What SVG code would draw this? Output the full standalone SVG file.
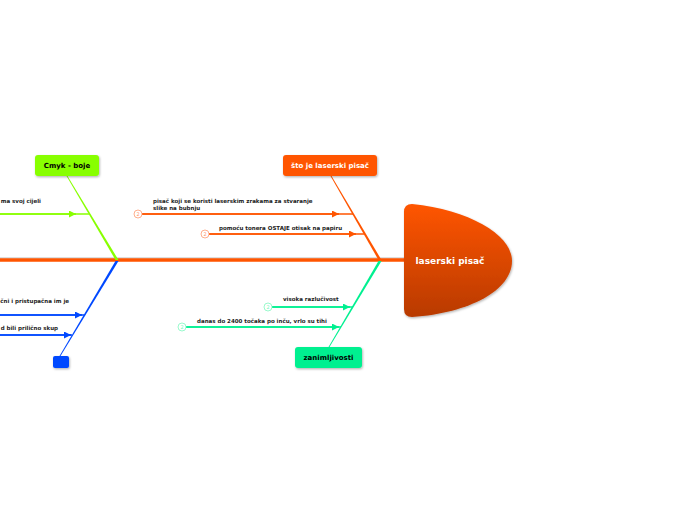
<svg xmlns="http://www.w3.org/2000/svg" width="696" height="520" viewBox="0 0 696 520">
<style>
.lbl{font-family:"DejaVu Sans",Verdana,sans-serif;font-weight:bold;font-size:5.5px;fill:#222}
.node text{font-family:"DejaVu Sans",Verdana,sans-serif;font-weight:bold;font-size:7px;text-anchor:middle}
.num{font-family:"DejaVu Sans",Verdana,sans-serif;font-size:5px;text-anchor:middle}
</style>
<defs>
<linearGradient id="headG" x1="0" y1="0" x2="0" y2="1">
<stop offset="0" stop-color="#FF5500"/>
<stop offset="1" stop-color="#B83A00"/>
</linearGradient>
<filter id="sh" x="-20%" y="-20%" width="140%" height="150%">
<feDropShadow dx="0.8" dy="1.2" stdDeviation="1" flood-color="#000" flood-opacity="0.3"/>
</filter>
<marker id="aO" viewBox="0 0 10 10" refX="10" refY="5" markerWidth="7" markerHeight="7" markerUnits="userSpaceOnUse" orient="auto"><path d="M0,0L10,5L0,10z" fill="#FF5500"/></marker>
<marker id="aG" viewBox="0 0 10 10" refX="10" refY="5" markerWidth="7" markerHeight="7" markerUnits="userSpaceOnUse" orient="auto"><path d="M0,0L10,5L0,10z" fill="#88FF00"/></marker>
<marker id="aB" viewBox="0 0 10 10" refX="10" refY="5" markerWidth="7" markerHeight="7" markerUnits="userSpaceOnUse" orient="auto"><path d="M0,0L10,5L0,10z" fill="#0048FF"/></marker>
<marker id="aT" viewBox="0 0 10 10" refX="10" refY="5" markerWidth="7" markerHeight="7" markerUnits="userSpaceOnUse" orient="auto"><path d="M0,0L10,5L0,10z" fill="#00F090"/></marker>
</defs>
<rect width="696" height="520" fill="#fff"/>
<g id="connectors">
<line x1="0" y1="258" x2="405" y2="258" stroke="#bbb" stroke-width="1"/>
<line x1="0" y1="260" x2="406" y2="260" stroke="#FF5500" stroke-width="3.5"/>
<polygon points="330.5,176 331.5,176 381.5,260 378.5,260" fill="#FF5500"/>
<polygon points="66.5,176 67.5,176 118.5,260 115.5,260" fill="#88FF00"/>
<polygon points="115.5,261 118.5,261 60.5,356 59.5,356" fill="#0048FF"/>
<polygon points="378.5,261 381.5,261 329.5,347 328.5,347" fill="#00F090"/>
<line x1="142" y1="214" x2="353" y2="214" stroke="#FF5500" stroke-width="1.3"/>
<line x1="142" y1="214" x2="339" y2="214" stroke="#FF5500" stroke-width="1.3" marker-end="url(#aO)"/>
<line x1="209" y1="234" x2="364" y2="234" stroke="#FF5500" stroke-width="1.3"/>
<line x1="209" y1="234" x2="356" y2="234" stroke="#FF5500" stroke-width="1.3" marker-end="url(#aO)"/>
<line x1="0" y1="214" x2="90" y2="214" stroke="#88FF00" stroke-width="1.3"/>
<line x1="0" y1="214" x2="76" y2="214" stroke="#88FF00" stroke-width="1.3" marker-end="url(#aG)"/>
<line x1="0" y1="315" x2="84" y2="315" stroke="#0048FF" stroke-width="1.3"/>
<line x1="0" y1="315" x2="82" y2="315" stroke="#0048FF" stroke-width="1.3" marker-end="url(#aB)"/>
<line x1="0" y1="335" x2="72" y2="335" stroke="#0048FF" stroke-width="1.3"/>
<line x1="0" y1="335" x2="71" y2="335" stroke="#0048FF" stroke-width="1.3" marker-end="url(#aB)"/>
<line x1="272" y1="307" x2="353" y2="307" stroke="#00F090" stroke-width="1.3"/>
<line x1="272" y1="307" x2="350" y2="307" stroke="#00F090" stroke-width="1.3" marker-end="url(#aT)"/>
<line x1="186" y1="327" x2="341" y2="327" stroke="#00F090" stroke-width="1.3"/>
<line x1="186" y1="327" x2="339" y2="327" stroke="#00F090" stroke-width="1.3" marker-end="url(#aT)"/>
</g>
<g id="head" class="node">
<path d="M412,204 C470,210 512,235 512,261 C512,290 470,313 412,317 Q404,317 404,309 L404,212 Q404,204 412,204 Z" fill="url(#headG)" filter="url(#sh)"/>
<text x="450" y="264" fill="#fff" style="font-size:9px">laserski pisač</text>
</g>
<g id="n-sto" class="node">
<rect x="283" y="155" width="94" height="21" rx="3" fill="#FF5500" filter="url(#sh)"/>
<text x="330" y="168" fill="#fff">što je laserski pisač</text>
</g>
<g id="n-cmyk" class="node">
<rect x="35" y="155" width="64" height="21" rx="3" fill="#88FF00" filter="url(#sh)"/>
<text x="67" y="168" fill="#000">Cmyk - boje</text>
</g>
<g id="n-blue" class="node">
<rect x="53" y="356" width="16" height="12" rx="2" fill="#0048FF" filter="url(#sh)"/>
</g>
<g id="n-zanim" class="node">
<rect x="295" y="347" width="67" height="21" rx="3" fill="#00F090" filter="url(#sh)"/>
<text x="328.5" y="360" fill="#000">zanimljivosti</text>
</g>
<g id="t1">
<text class="lbl" x="153" y="203">pisač koji se koristi laserskim zrakama za stvaranje</text>
<text class="lbl" x="153" y="210">slike na bubnju</text>
<circle cx="138" cy="214" r="4" fill="#fff" stroke="#FF9A70" stroke-width="0.8"/>
<text class="num" x="138" y="216" fill="#FF9A70">2</text>
</g>
<g id="t2">
<text class="lbl" x="219" y="230">pomoću tonera OSTAJE otisak na papiru</text>
<circle cx="205" cy="234" r="4" fill="#fff" stroke="#FF9A70" stroke-width="0.8"/>
<text class="num" x="205" y="236" fill="#FF9A70">2</text>
</g>
<g id="t3">
<text class="lbl" x="41" y="203" text-anchor="end">ma svoj cijeli</text>
</g>
<g id="t4">
<text class="lbl" x="69" y="303" text-anchor="end">čni i pristupačna im je</text>
</g>
<g id="t5">
<text class="lbl" x="58" y="330" text-anchor="end">d bili prilično skup</text>
</g>
<g id="t6">
<text class="lbl" x="283" y="301">visoka razlučivost</text>
<circle cx="268" cy="307" r="4" fill="#fff" stroke="#80F8C0" stroke-width="0.8"/>
<text class="num" x="268" y="309" fill="#80F8C0">2</text>
</g>
<g id="t7">
<text class="lbl" x="197" y="323">danas do 2400 točaka po inču, vrlo su tihi</text>
<circle cx="182" cy="327" r="4" fill="#fff" stroke="#80F8C0" stroke-width="0.8"/>
<text class="num" x="182" y="329" fill="#80F8C0">2</text>
</g>
</svg>
